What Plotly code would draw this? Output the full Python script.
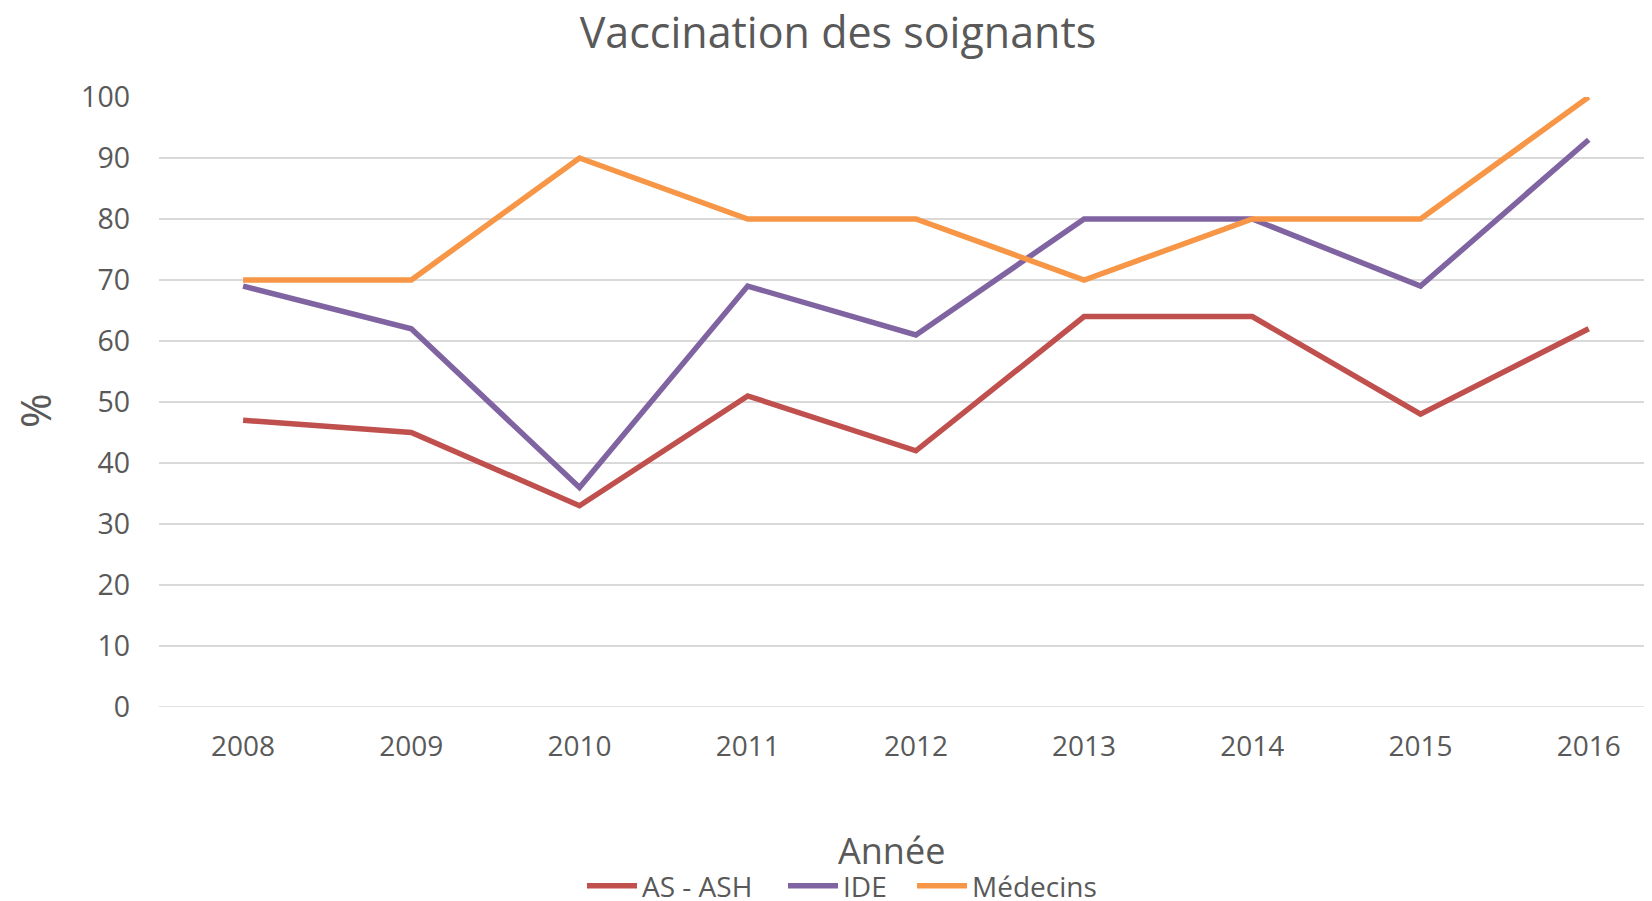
import plotly.graph_objects as go

years = ["2008", "2009", "2010", "2011", "2012", "2013", "2014", "2015", "2016"]
as_ash = [47, 45, 33, 51, 42, 64, 64, 48, 62]
ide = [69, 62, 36, 69, 61, 80, 80, 69, 93]
medecins = [70, 70, 90, 80, 80, 70, 80, 80, 100]

# the page body has an 8px margin; work in figure coordinates
OFF = 8
W, H = 1652, 893
L, R, T = 159 - OFF, 0, 97 - OFF
B = H - (707 - OFF)
pw, ph = W - L - R, H - T - B
STEP = 168.2  # px per category in the reference
X_RIGHT = -0.5 + pw / STEP

def px_x(x):
    return (x - OFF - L) / pw

def px_y(y):
    return (H - B - (y - OFF)) / ph

FONT = "Open Sans"
TXT = "#595959"

fig = go.Figure()
fig.add_trace(go.Scatter(x=years, y=as_ash, name="AS - ASH", mode="lines",
                         line=dict(color="#C0504D", width=5.5), legend="legend"))
fig.add_trace(go.Scatter(x=years, y=ide, name="IDE", mode="lines",
                         line=dict(color="#8064A2", width=5.5), legend="legend2"))
fig.add_trace(go.Scatter(x=years, y=medecins, name="Médecins", mode="lines",
                         line=dict(color="#F79646", width=5.5), legend="legend3"))

def leg(xpx):
    return dict(orientation="h", x=px_x(xpx), xanchor="left",
                y=px_y(886), yanchor="middle",
                font=dict(size=28, color=TXT, family=FONT),
                itemwidth=50, bgcolor="rgba(0,0,0,0)", borderwidth=0)

fig.update_layout(
    width=W, height=H,
    margin=dict(l=L, r=R, t=T, b=B, pad=0, autoexpand=False),
    paper_bgcolor="white", plot_bgcolor="white",
    font=dict(family=FONT, color=TXT),
    title=dict(text="Vaccination des soignants", x=(838 - OFF) / W, xanchor="center",
               y=1 - (33 - OFF) / H, yanchor="middle", yref="container",
               font=dict(size=43, color=TXT, family=FONT)),
    showlegend=True,
    legend=leg(582),
    legend2=leg(783),
    legend3=leg(912),
    xaxis=dict(type="category", range=[-0.5, X_RIGHT], showgrid=False,
               showline=False, zeroline=False, ticks="",
               tickfont=dict(size=28, color=TXT, family=FONT),
               ticklabelstandoff=20),
    yaxis=dict(range=[0, 100], dtick=10, showgrid=True, gridcolor="#D9D9D9",
               gridwidth=1.5, zeroline=False, showline=False, ticks="",
               tickfont=dict(size=28.5, color=TXT, family=FONT),
               ticklabelstandoff=28),
    annotations=[
        dict(text="Année", x=px_x(891), y=px_y(850), xref="paper", yref="paper",
             xanchor="center", yanchor="middle", showarrow=False,
             font=dict(size=36, color=TXT, family=FONT)),
        dict(text="%", x=px_x(34), y=px_y(411), xref="paper", yref="paper",
             xanchor="center", yanchor="middle", showarrow=False, textangle=-90,
             font=dict(size=42, color=TXT, family=FONT)),
    ],
)
fig.add_shape(type="line", xref="paper", yref="y", x0=0, x1=1, y0=0, y1=0,
              line=dict(color="#D9D9D9", width=1.5), layer="below")

fig.write_html("out.html")
